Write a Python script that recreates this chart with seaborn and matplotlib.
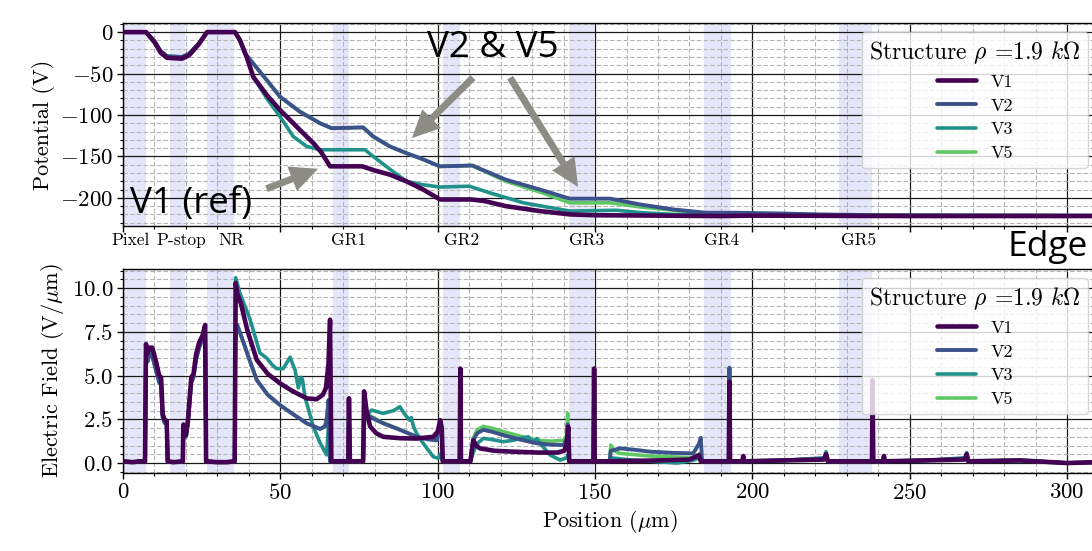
import numpy as np
import pandas as pd
import matplotlib
matplotlib.use("Agg")
import matplotlib.pyplot as plt
import seaborn as sns
from matplotlib.ticker import MultipleLocator

# ---------------- data ----------------
versions = ["V1", "V2", "V3", "V5"]
colors = {"V1": "#440154", "V2": "#3b528b", "V3": "#21918c", "V5": "#5ec962"}

region_names = ["Pixel", "P-stop", "NR", "GR1", "GR2", "GR3", "GR4", "GR5"]
region_label_x = [2.5, 18.4, 34.3, 71.8, 107.7, 147.4, 190.3, 233.6]
region_start = [0.0, 15.0, 26.7, 66.7, 101.7, 141.7, 184.6, 227.5]
region_end = [7.3, 19.7, 35.3, 71.8, 107.1, 149.7, 193.2, 238.0]

# Potential (V)
pot_x_v1 = [0, 7.3, 10, 12, 14, 18.7, 21, 24, 26.7, 35.6, 37.2, 39.3, 41.4, 45.7, 49.9, 56.2, 60.5, 63,
            65.8, 76, 80, 84.8, 90, 95.4, 100.7, 110.8, 115, 121.6, 132.5, 142, 150, 170, 190, 200, 250, 309.5]
pot_v1 = [0, 0, -12, -25, -31, -32, -28, -15, 0, 0, -10, -30, -54, -76, -94, -118, -134, -145,
          -162, -162, -167, -172, -180, -190, -202, -202, -204, -210, -216, -220, -221, -221.5, -222,
          -221.5, -222, -222]
pot_x_v2 = [0, 7.3, 10, 12, 14, 18.7, 21, 24, 26.7, 35.6, 37.2, 38.8, 41.4, 45.7, 49.9, 56.2, 62.6, 66.3,
            76.3, 79.5, 84.8, 90, 95, 100.7, 111, 116.6, 121.6, 132.5, 142, 154.8, 164.3, 174.8, 185.3,
            195, 210, 221.5, 240, 309.5]
pot_v2 = [0, 0, -11, -23, -29, -30, -26, -14, 0, 0, -10, -26, -38, -58, -78, -96, -110, -116,
          -115, -126, -138, -146, -153, -162, -161, -170, -178, -190, -201, -201, -208, -214, -218,
          -218, -219, -220, -221, -221.5]
pot_x_v3 = [0, 7.3, 10, 12, 14, 18.7, 21, 24, 26.7, 35.6, 37.2, 39.3, 41.4, 45.7, 49.9, 54.1, 58.4, 62.6,
            76.9, 79.5, 85, 90, 95, 100.7, 110, 116.6, 127.2, 142, 156.8, 165, 174.8, 190, 220, 309.5]
pot_v3 = [0, 0, -12, -25, -31, -32, -28, -15, 0, 0, -10, -30, -54, -80, -102, -126, -138, -142,
          -142, -150, -166, -180, -184, -187, -186, -194, -206, -216, -215, -218, -220, -221, -221.5, -222]
pot_x_v5 = [0, 7.3, 10, 12, 14, 18.7, 21, 24, 26.7, 35.6, 37.2, 38.8, 41.4, 45.7, 49.9, 56.2, 62.6, 66.3,
            76.3, 79.5, 84.8, 90, 95, 100.7, 111, 116.6, 121.6, 132.5, 142, 154.8, 164.3, 174.8, 185.3,
            200, 221.5, 309.5]
pot_v5 = [0, 0, -11, -23, -29, -30, -26, -14, 0, 0, -10, -26, -38, -58, -78, -96, -110, -116,
          -115, -126, -138, -146, -153, -162, -161, -171, -180, -193, -206, -206, -211, -215, -218.5,
          -219.5, -220.5, -221.5]

# Electric field (V/um) -- read segment by segment
ef_front_x = [0, 3, 5.5, 7.0, 7.3, 7.8, 8.4, 9.3, 10.5, 11.5, 12.1, 12.6, 13.2, 13.9, 14.2, 16, 19.0, 19.2,
              20.0, 20.6, 21.7, 22.4, 23.2, 24.2, 25.3, 26.1, 26.4, 30, 33, 35.5]
ef_front_v1 = [0.1, 0.05, 0.1, 0.1, 6.8, 6.3, 6.6, 6.6, 5.8, 5.0, 4.9, 2.8, 2.5, 2.4, 0.1, 0.05, 0.1, 2.2,
               1.6, 2.4, 4.9, 5.1, 6.2, 6.9, 7.3, 7.9, 0.1, 0.05, 0.05, 0.1]
ef_front_v2 = [0.1, 0.05, 0.1, 0.1, 6.3, 5.8, 6.2, 6.1, 5.3, 4.6, 4.5, 2.6, 2.3, 2.2, 0.1, 0.05, 0.1, 2.0,
               1.5, 2.2, 4.6, 4.9, 5.9, 6.6, 7.1, 7.6, 0.1, 0.05, 0.05, 0.1]
ef_front_v3 = [0.1, 0.05, 0.1, 0.1, 6.5, 6.0, 6.4, 6.3, 5.5, 4.8, 4.7, 2.7, 2.4, 2.3, 0.1, 0.05, 0.1, 2.1,
               1.55, 2.3, 4.8, 5.0, 6.0, 6.7, 7.2, 7.7, 0.1, 0.05, 0.05, 0.1]

ef_nr_x_v1 = [35.8, 36.3, 37.5, 39.5, 42.5, 46, 50, 54, 58.4, 61.5, 63.5, 64.5, 65.3, 65.8, 66.2]
ef_nr_v1 = [10.3, 9.7, 9.1, 7.6, 5.9, 5.1, 4.55, 4.1, 3.7, 3.65, 3.9, 4.3, 5.7, 8.2, 0.1]
ef_nr_x_v2 = [35.7, 36.3, 37.5, 40, 42.5, 46, 50, 54, 58.4, 62.6, 64.2, 64.8, 65.3, 65.8]
ef_nr_v2 = [7.0, 7.9, 7.3, 6.0, 4.75, 3.9, 3.3, 2.8, 2.27, 1.95, 2.1, 2.6, 3.6, 0.1]
ef_nr_x_v3 = [35.8, 37.2, 40.4, 43.5, 45.7, 47.5, 48.8, 50.9, 53.1, 54.7, 55.7, 56.5, 57.0, 57.8, 60.5,
              62.5, 64.7, 65.2, 65.6, 65.9]
ef_nr_v3 = [10.6, 9.7, 8.2, 6.3, 6.0, 5.6, 5.4, 5.4, 6.05, 5.3, 4.3, 4.9, 4.8, 3.8, 2.07,
            1.2, 0.46, 1.9, 3.6, 0.1]

ef_g1_x_v1 = [71.6, 71.8, 72.1, 76.3, 76.6, 77.4, 78.5, 80.5, 82.7, 88, 93.3, 98.6, 100.0, 100.8, 101.3, 101.6]
ef_g1_v1 = [0.1, 3.7, 0.1, 0.1, 4.1, 3.0, 2.1, 1.7, 1.5, 1.42, 1.4, 1.5, 1.8, 2.45, 2.0, 0.1]
ef_g1_x_v2 = [71.6, 71.8, 72.1, 76.3, 76.7, 78.0, 80, 82.7, 88, 93.3, 97, 99.7, 100.4, 100.8, 101.3, 101.6]
ef_g1_v2 = [0.1, 3.7, 0.1, 0.1, 2.5, 2.7, 2.5, 2.27, 1.9, 1.5, 1.35, 1.3, 1.9, 2.2, 1.8, 0.1]
ef_g1_x_v3 = [71.6, 71.8, 72.1, 76.3, 76.7, 77.9, 79, 82.7, 86, 88, 89.1, 91.0, 91.6, 92.3, 93.3, 95.4,
              98.6, 100.2, 100.8, 101.6]
ef_g1_v3 = [0.1, 3.7, 0.1, 0.1, 2.5, 2.84, 3.03, 2.84, 3.0, 3.22, 2.9, 2.46, 2.6, 2.1, 1.7, 1.13,
            0.36, 0.27, 0.5, 0.1]
ef_g1_v5 = [0.1, 3.7, 0.1, 0.1, 2.55, 2.75, 2.55, 2.3, 1.92, 1.52, 1.37, 1.32, 1.9, 2.2, 1.8, 0.1]

ef_g2_x_v1 = [107.0, 107.2, 107.4, 110.4, 111.3, 112.3, 113.4, 118, 124, 132, 138, 140.2, 141.0, 141.5, 141.8]
ef_g2_v1 = [0.1, 5.4, 0.1, 0.1, 1.3, 1.0, 0.84, 0.7, 0.65, 0.6, 0.6, 0.7, 1.1, 2.07, 0.1]
ef_g2_x_v2 = [107.0, 107.2, 107.4, 110.4, 111.3, 112.5, 114.5, 117, 120.8, 126, 131.5, 136, 140, 141.0,
              141.3, 141.8]
ef_g2_v2 = [0.1, 5.4, 0.1, 0.1, 1.3, 1.7, 1.9, 1.8, 1.6, 1.35, 1.13, 1.05, 1.03, 1.4, 2.2, 0.1]
ef_g2_x_v3 = [107.0, 107.2, 107.4, 110.4, 111.3, 112.5, 114.5, 117, 120.8, 124, 126.2, 128.8, 130.4, 131.5,
              133, 135.7, 138.9, 141, 141.5, 141.8]
ef_g2_v3 = [0.1, 5.4, 0.1, 0.1, 0.6, 1.1, 1.41, 1.35, 1.22, 1.3, 1.41, 1.5, 1.2, 1.4,
            1.03, 0.46, 0.17, 0.3, 0.5, 0.1]
ef_g2_v5 = [0.1, 5.4, 0.1, 0.1, 1.4, 1.9, 2.1, 2.0, 1.8, 1.55, 1.3, 1.25, 1.3, 1.6, 2.84, 0.1]

ef_g3_x_v1 = [149.5, 149.7, 149.9, 155, 170, 180, 183.0, 183.6]
ef_g3_v1 = [0.1, 5.4, 0.1, 0.1, 0.15, 0.2, 0.45, 0.1]
ef_g3_x_v2 = [149.5, 149.7, 149.9, 154.6, 155.0, 158, 163, 167.5, 175, 181.2, 183.0, 183.6, 184.0]
ef_g3_v2 = [0.1, 5.4, 0.1, 0.1, 0.7, 0.84, 0.75, 0.65, 0.58, 0.55, 1.1, 1.45, 0.1]
ef_g3_x_v3 = [149.5, 149.7, 149.9, 154.6, 155, 160, 168, 176, 181, 183.3, 183.8]
ef_g3_v3 = [0.1, 5.4, 0.1, 0.1, 0.3, 0.2, 0.1, 0.0, 0.15, 0.3, 0.1]
ef_g3_x_v5 = [149.5, 149.7, 149.9, 154.6, 155.0, 156, 158, 167.5, 175, 181.2, 183.3, 183.8]
ef_g3_v5 = [0.1, 5.4, 0.1, 0.1, 1.03, 0.7, 0.55, 0.4, 0.35, 0.3, 0.55, 0.1]

ef_tail_x = [184.2, 192.5, 192.7, 192.9, 196.8, 197.1, 197.4, 210, 222.8, 223.4, 224.0, 238.0, 238.2, 238.4,
             241.5, 241.8, 242.1, 255, 267.5, 268.1, 268.6, 285, 295, 300, 309.5]
ef_tail_v1 = [0.1, 0.1, 4.65, 0.1, 0.1, 0.4, 0.1, 0.15, 0.2, 0.5, 0.1, 0.1, 4.75, 0.1,
              0.1, 0.4, 0.1, 0.15, 0.2, 0.5, 0.1, 0.15, 0.05, 0.0, 0.05]
ef_tail_v2 = [0.1, 0.1, 5.45, 0.1, 0.1, 0.35, 0.1, 0.15, 0.25, 0.55, 0.1, 0.1, 4.6, 0.1,
              0.1, 0.35, 0.1, 0.15, 0.25, 0.5, 0.1, 0.15, 0.05, 0.0, 0.05]
ef_tail_v3 = [0.1, 0.1, 4.9, 0.1, 0.1, 0.35, 0.1, 0.15, 0.3, 0.65, 0.1, 0.1, 4.6, 0.1,
              0.1, 0.35, 0.1, 0.15, 0.3, 0.6, 0.1, 0.15, 0.05, 0.0, 0.05]

pot = {
    "V1": (pot_x_v1, pot_v1), "V2": (pot_x_v2, pot_v2),
    "V3": (pot_x_v3, pot_v3), "V5": (pot_x_v5, pot_v5),
}
field = {
    "V1": (ef_front_x + ef_nr_x_v1 + ef_g1_x_v1 + ef_g2_x_v1 + ef_g3_x_v1 + ef_tail_x,
           ef_front_v1 + ef_nr_v1 + ef_g1_v1 + ef_g2_v1 + ef_g3_v1 + ef_tail_v1),
    "V2": (ef_front_x + ef_nr_x_v2 + ef_g1_x_v2 + ef_g2_x_v2 + ef_g3_x_v2 + ef_tail_x,
           ef_front_v2 + ef_nr_v2 + ef_g1_v2 + ef_g2_v2 + ef_g3_v2 + ef_tail_v2),
    "V3": (ef_front_x + ef_nr_x_v3 + ef_g1_x_v3 + ef_g2_x_v3 + ef_g3_x_v3 + ef_tail_x,
           ef_front_v3 + ef_nr_v3 + ef_g1_v3 + ef_g2_v3 + ef_g3_v3 + ef_tail_v3),
    "V5": (ef_front_x + ef_nr_x_v2 + ef_g1_x_v2 + ef_g2_x_v2 + ef_g3_x_v5 + ef_tail_x,
           ef_front_v2 + ef_nr_v2 + ef_g1_v5 + ef_g2_v5 + ef_g3_v5 + ef_tail_v2),
}

# ---------------- style ----------------
sns.set_style("ticks")
plt.rcParams.update({
    "font.family": "serif",
    "font.serif": ["cmr10"],
    "mathtext.fontset": "cm",
    "axes.formatter.use_mathtext": True,
    "axes.edgecolor": "black",
    "axes.linewidth": 1.0,
    "xtick.color": "black",
    "ytick.color": "black",
    "text.color": "black",
    "axes.labelcolor": "black",
})

W, H = 1092, 551
fig = plt.figure(figsize=(W / 100, H / 100), dpi=100)
fig.patch.set_facecolor("white")
left, right = 123, 1097
ax1 = fig.add_axes([left / W, 1 - 226 / H, (right - left) / W, 203 / H])
ax2 = fig.add_axes([left / W, 1 - 473 / H, (right - left) / W, 204 / H])

draw_order = ["V5", "V3", "V2", "V1"]
lws = {"V1": 3.3, "V2": 2.8, "V3": 2.6, "V5": 2.6}

for ax, dataset in ((ax1, pot), (ax2, field)):
    ax.set_axisbelow(True)
    for a, b in zip(region_start, region_end):
        ax.axvspan(a, b, color="#e6e6fa", lw=0, zorder=0)
    for z, v in enumerate(draw_order):
        xs, ys = dataset[v]
        df = pd.DataFrame({"Position": xs, "value": ys})
        sns.lineplot(data=df, x="Position", y="value", estimator=None, sort=False,
                     color=colors[v], lw=lws[v], label=v, ax=ax, zorder=2 + z)
    ax.set_xlim(0, (right - left) / 3.147)
    ax.xaxis.set_major_locator(MultipleLocator(50))
    ax.xaxis.set_minor_locator(MultipleLocator(10))
    ax.grid(which="major", color="#1a1a1a", lw=0.9, ls="-")
    ax.grid(which="minor", color="#b4b4b4", lw=0.8, ls=(0, (4, 2)))
    ax.tick_params(which="major", length=4, width=1, direction="out", labelsize=16.5, pad=3)
    ax.tick_params(which="minor", length=2.5, width=0.8, direction="out")
    for s in ax.spines.values():
        s.set_color("black")
        s.set_linewidth(1.0)
    handles, labels = ax.get_legend_handles_labels()
    order = [labels.index(v) for v in versions]
    ax.legend([handles[i] for i in order], [labels[i] for i in order],
              title=r"Structure $\rho$ =1.9 $k\Omega$", loc="upper right",
              fontsize=13, title_fontsize=17, labelspacing=0.45, handlelength=2.2,
              handletextpad=0.8, borderaxespad=0.5, framealpha=0.8, borderpad=0.4)

# top axes
ax1.set_ylim(-234, 11)
ax1.yaxis.set_major_locator(MultipleLocator(50))
ax1.yaxis.set_minor_locator(MultipleLocator(10))
ax1.tick_params(axis="x", labelbottom=False)
ax1.set_xlabel("")
ax1.set_ylabel("Potential (V)", fontsize=16)
for name, xc in zip(region_names, region_label_x):
    ax1.text(xc, -0.035, name, transform=ax1.get_xaxis_transform(), ha="center", va="top",
             fontsize=12.5, clip_on=False)

# bottom axes
ax2.set_ylim(-0.57, 11.1)
ax2.yaxis.set_major_locator(MultipleLocator(2.5))
ax2.yaxis.set_minor_locator(MultipleLocator(0.5))
ax2.set_xlabel(r"Position ($\mu$m)", fontsize=16)
ax2.set_ylabel(r"Electric Field (V/$\mu$m)", fontsize=16)

# annotations
arrow_color = "#8d8d85"
style = "simple,head_length=2.0,head_width=1.9,tail_width=0.5"
ax1.text(2.2, -218, "V1 (ref)", fontsize=26.5, family="Open Sans", va="baseline", ha="left",
         color="black", zorder=10)
ax1.text(96.6, -30, "V2 & V5", fontsize=26.5, family="Open Sans", va="baseline", ha="left",
         color="black", zorder=10)
for xy, xyt in (((62, -165), (45.6, -189)), ((91.8, -128), (111.2, -55)), ((144.6, -187), (123, -55))):
    ax1.annotate("", xy=xy, xytext=xyt,
                 arrowprops=dict(arrowstyle=style, color=arrow_color, lw=0, shrinkA=0, shrinkB=0,
                                 mutation_scale=10), zorder=10)
fig.text(1088 / W, 1 - 256 / H, "Edge", fontsize=25.5, family="Open Sans", va="baseline", ha="right",
         color="black")

fig.savefig("out.png", dpi=100)
